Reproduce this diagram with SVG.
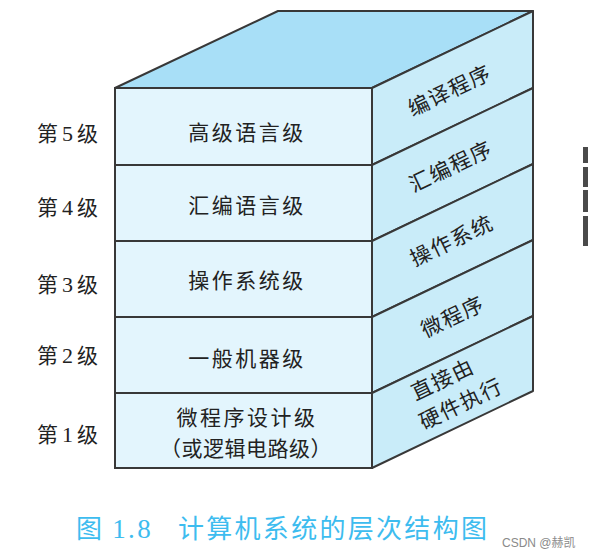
<svg xmlns="http://www.w3.org/2000/svg" width="594" height="558" viewBox="0 0 594 558">
<style>
.front{fill:#e3f5fd;stroke:#383838;stroke-width:2}
.side{fill:#c9ecf9;stroke:#383838;stroke-width:2;stroke-linejoin:round}
.top{fill:#a8dff7;stroke:#383838;stroke-width:2;stroke-linejoin:round}
.lbl{font-family:"Noto Sans CJK SC",sans-serif;font-size:21px;fill:#222;text-anchor:middle;letter-spacing:2.5px}
.side-t{font-family:"Noto Sans CJK SC",sans-serif;font-size:21px;fill:#222;text-anchor:middle;letter-spacing:1.5px}
.lvl{font-family:"Noto Sans CJK SC",sans-serif;font-size:21px;fill:#222}
.num{font-family:"Liberation Serif",serif;font-size:22px}
.cap{font-family:"Noto Sans CJK SC",sans-serif;font-size:26px;fill:#3dbcef;letter-spacing:2.3px}
.wm{font-family:"Liberation Sans","Noto Sans CJK SC",sans-serif;font-size:12px;fill:#8a8a8a}
</style>
<rect width="594" height="558" fill="#ffffff"/>
<g id="top-face">
<polygon class="top" points="115,88 278,11 533,11 372,88"/>
</g>
<g id="level5">
<rect class="front" x="115" y="88" width="257" height="77"/>
<polygon class="side" points="372,88 533,11 533,88 372,165"/>
<text class="lvl" x="37" y="141">第<tspan class="num" dx="4">5</tspan><tspan dx="4">级</tspan></text>
<text class="lbl" x="247" y="140">高级语言级</text>
<text class="side-t" transform="translate(450,91) rotate(-25.6)" y="7">编译程序</text>
</g>
<g id="level4">
<rect class="front" x="115" y="165" width="257" height="76"/>
<polygon class="side" points="372,165 533,88 533,164 372,241"/>
<text class="lvl" x="37" y="215">第<tspan class="num" dx="4">4</tspan><tspan dx="4">级</tspan></text>
<text class="lbl" x="247" y="213">汇编语言级</text>
<text class="side-t" transform="translate(451,167) rotate(-25.6)" y="7">汇编程序</text>
</g>
<g id="level3">
<rect class="front" x="115" y="241" width="257" height="76"/>
<polygon class="side" points="372,241 533,164 533,240 372,317"/>
<text class="lvl" x="37" y="292">第<tspan class="num" dx="4">3</tspan><tspan dx="4">级</tspan></text>
<text class="lbl" x="247" y="288">操作系统级</text>
<text class="side-t" transform="translate(452,241) rotate(-25.6)" y="7">操作系统</text>
</g>
<g id="level2">
<rect class="front" x="115" y="317" width="257" height="76"/>
<polygon class="side" points="372,317 533,240 533,316 372,393"/>
<text class="lvl" x="37" y="363">第<tspan class="num" dx="4">2</tspan><tspan dx="4">级</tspan></text>
<text class="lbl" x="247" y="366">一般机器级</text>
<text class="side-t" transform="translate(453,317) rotate(-25.6)" y="7">微程序</text>
</g>
<g id="level1">
<rect class="front" x="115" y="393" width="257" height="75"/>
<polygon class="side" points="372,393 533,316 533,391 372,468"/>
<text class="lvl" x="37" y="442">第<tspan class="num" dx="4">1</tspan><tspan dx="4">级</tspan></text>
<text class="lbl" x="247" y="425">微程序设计级</text>
<text class="lbl" x="246" y="456" style="letter-spacing:0.5px">（或逻辑电路级）</text>
<text class="side-t" transform="translate(452,392) rotate(-25.6)"><tspan x="-3" y="-8">直接由</tspan><tspan x="3" y="22">硬件执行</tspan></text>
</g>
<g id="caption">
<text class="cap" x="76" y="538">图<tspan font-family="Liberation Serif,serif" font-size="27" dx="8">1.8</tspan><tspan dx="25">计算机系统的层次结构图</tspan></text>
<text class="wm" x="502" y="547">CSDN @赫凯</text>
</g>
<g id="edge-fragment" fill="#4a4a4a">
<rect x="583" y="147" width="5" height="16"/>
<rect x="583" y="167" width="5" height="20"/>
<rect x="583" y="190" width="5" height="22"/>
<rect x="583" y="216" width="5" height="30"/>
</g>
</svg>
